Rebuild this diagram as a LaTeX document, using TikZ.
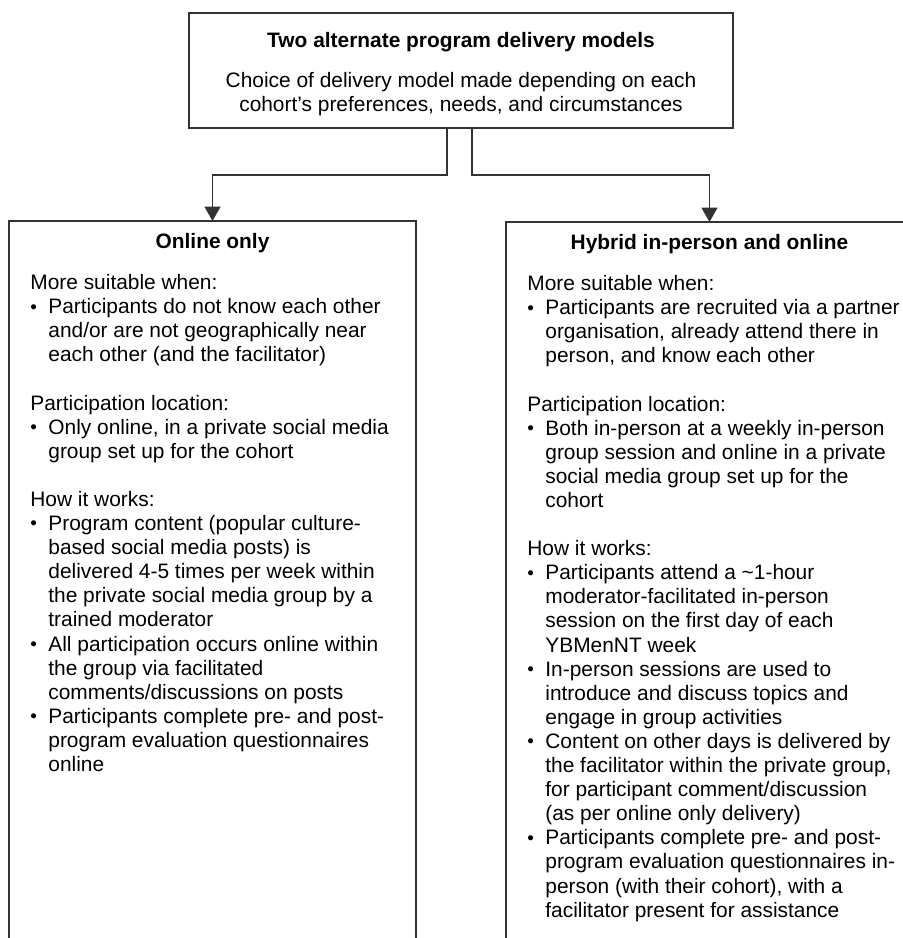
\documentclass[tikz,border=0pt]{standalone}
\usepackage{fontspec}
\setmainfont{Liberation Sans}
\usetikzlibrary{arrows.meta,positioning}

\tikzset{
  frame/.style={draw=black!80, line width=0.65pt, outer sep=0pt, inner sep=0pt},
  txt/.style={inner sep=0pt, font=\fontsize{10.45pt}{12.05pt}\selectfont},
  head/.style={txt, font=\fontsize{10.45pt}{12.05pt}\selectfont\bfseries},
  body/.style={txt, anchor=north west, align=left},
  arr/.style={draw=black!80, line width=0.6pt, -{Triangle[width=8pt,length=7.2pt]}},
}
\newcommand{\itm}{\makebox[9pt][l]{\raisebox{0.3pt}{\scalebox{0.9}{\textbullet}}}}
\newcommand{\ctd}{\hspace*{9pt}}

\begin{document}
\begin{tikzpicture}[x=0.5pt, y=-0.5pt]
  \useasboundingbox (0,0) rectangle (903,938);
  \clip (0,0) rectangle (903,938);
  % top box
  \node[frame, minimum width=272pt, minimum height=57.5pt] (models) at (461,70.5) {};
  \node[txt, align=center] (modelstext) at (461,74) {%
    {\bfseries Two alternate program delivery models}\\[8pt]
    Choice of delivery model made depending on each\\
    cohort’s preferences, needs, and circumstances};
  % the two model boxes, open at the bottom
  \node[frame, minimum width=203.5pt, minimum height=380pt, anchor=north west] (online) at (9,221) {};
  \node[frame, minimum width=203.5pt, minimum height=380pt, anchor=north west] (hybrid) at (506,222) {};
  \node[head] (onlinehead) at ([yshift=-11pt]online.north) {Online only};
  \node[head] (hybridhead) at ([yshift=-11pt]hybrid.north) {Hybrid in-person and online};
  \node[body] (onlinetext) at (30,274) {%
    More suitable when:\\
    \itm Participants do not know each other\\
    \ctd and/or are not geographically near\\
    \ctd each other (and the facilitator)\\[12.05pt]
    Participation location:\\
    \itm Only online, in a private social media\\
    \ctd group set up for the cohort\\[12.05pt]
    How it works:\\
    \itm Program content (popular culture-\\
    \ctd based social media posts) is\\
    \ctd delivered 4-5 times per week within\\
    \ctd the private social media group by a\\
    \ctd trained moderator\\
    \itm All participation occurs online within\\
    \ctd the group via facilitated\\
    \ctd comments/discussions on posts\\
    \itm Participants complete pre- and post-\\
    \ctd program evaluation questionnaires\\
    \ctd online};
  \node[body] (hybridtext) at (527,275) {%
    More suitable when:\\
    \itm Participants are recruited via a partner\\
    \ctd organisation, already attend there in\\
    \ctd person, and know each other\\[12.05pt]
    Participation location:\\
    \itm Both in-person at a weekly in-person\\
    \ctd group session and online in a private\\
    \ctd social media group set up for the\\
    \ctd cohort\\[12.05pt]
    How it works:\\
    \itm Participants attend a \textasciitilde1-hour\\
    \ctd moderator-facilitated in-person\\
    \ctd session on the first day of each\\
    \ctd YBMenNT week\\
    \itm In-person sessions are used to\\
    \ctd introduce and discuss topics and\\
    \ctd engage in group activities\\
    \itm Content on other days is delivered by\\
    \ctd the facilitator within the private group,\\
    \ctd for participant comment/discussion\\
    \ctd (as per online only delivery)\\
    \itm Participants complete pre- and post-\\
    \ctd program evaluation questionnaires in-\\
    \ctd person (with their cohort), with a\\
    \ctd facilitator present for assistance};
  % connectors
  \coordinate (lstem) at (447,175);
  \coordinate (rstem) at (472,175);
  \draw[arr] (models.south -| lstem) -- (lstem) -| (online.north);
  \draw[arr] (models.south -| rstem) -- (rstem) -| (hybrid.north);
\end{tikzpicture}
\end{document}
